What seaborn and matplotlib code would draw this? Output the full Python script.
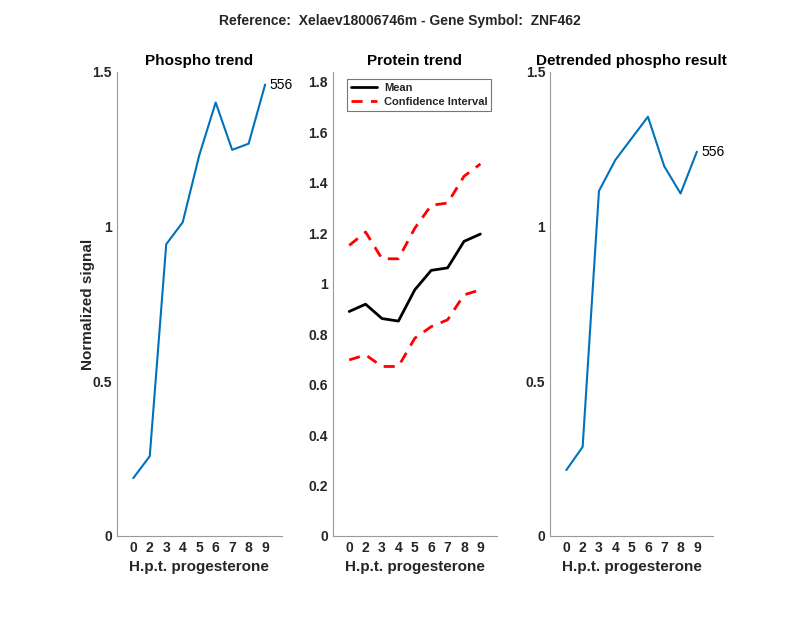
import numpy as np
import pandas as pd
import matplotlib
matplotlib.use("Agg")
import matplotlib.pyplot as plt
import seaborn as sns

# time points (h.p.t. progesterone); plotted at even positions 1..9
time_labels = ["0", "2", "3", "4", "5", "6", "7", "8", "9"]

phospho = [0.187, 0.258, 0.943, 1.014, 1.230, 1.401, 1.248, 1.268, 1.459]
protein_mean = [0.890, 0.919, 0.862, 0.852, 0.976, 1.053, 1.063, 1.168, 1.197]
protein_upper = [1.152, 1.205, 1.099, 1.099, 1.220, 1.311, 1.320, 1.426, 1.475]
protein_lower = [0.698, 0.718, 0.672, 0.672, 0.784, 0.830, 0.857, 0.956, 0.976]
detrended = [0.213, 0.288, 1.115, 1.215, 1.285, 1.355, 1.195, 1.107, 1.242]

protein_ticks = [0, 0.2, 0.4, 0.6, 0.8, 1, 1.2, 1.4, 1.6, 1.8]
protein_tick_labels = ["0", "0.2", "0.4", "0.6", "0.8", "1", "1.2", "1.4", "1.6", "1.8"]

peptide_label = "556"

sns.set_style("white")
plt.rcParams["font.family"] = ["Liberation Sans", "DejaVu Sans"]

blue = "#0072bd"
axis_col = "#9a9a9a"
text_col = "#262626"

pos = np.arange(1, len(time_labels) + 1)
df = pd.DataFrame({
    "pos": pos,
    "phospho": phospho,
    "mean": protein_mean,
    "upper": protein_upper,
    "lower": protein_lower,
    "detrended": detrended,
})

fig = plt.figure(figsize=(8, 6.18), dpi=100)
ax1 = fig.add_axes([0.146, 0.1327, 0.206, 0.751])
ax2 = fig.add_axes([0.416, 0.1327, 0.205, 0.751])
ax3 = fig.add_axes([0.6875, 0.1327, 0.204, 0.751])


def style_axis(ax, title, ylim, yticks, yticklabels):
    ax.set_xlim(0, 10)
    ax.set_ylim(*ylim)
    ax.set_xticks(pos)
    ax.set_xticklabels(time_labels)
    ax.set_yticks(yticks)
    ax.set_yticklabels(yticklabels)
    ax.set_title(title, fontsize=11, fontweight="bold", color="black", pad=5)
    ax.set_xlabel("H.p.t. progesterone", fontsize=11, fontweight="bold",
                  color=text_col, labelpad=4)
    ax.set_ylabel("")
    for s in ["top", "right"]:
        ax.spines[s].set_visible(False)
    for s in ["left", "bottom"]:
        ax.spines[s].set_color(axis_col)
        ax.spines[s].set_linewidth(0.8)
    ax.tick_params(direction="in", length=4, width=0.8, color=axis_col,
                   labelcolor=text_col, labelsize=10)
    for lab in ax.get_xticklabels() + ax.get_yticklabels():
        lab.set_fontweight("bold")


# phospho trend
sns.lineplot(data=df, x="pos", y="phospho", ax=ax1, color=blue, linewidth=1.5)
ax1.text(df["pos"].iloc[-1] + 0.25, df["phospho"].iloc[-1], peptide_label,
         fontsize=10, va="center", color="black")
style_axis(ax1, "Phospho trend", (0, 1.5), [0, 0.5, 1, 1.5], ["0", "0.5", "1", "1.5"])
ax1.set_ylabel("Normalized signal", fontsize=11, fontweight="bold",
               color=text_col, labelpad=-1.5)

# protein trend
sns.lineplot(data=df, x="pos", y="mean", ax=ax2, color="black", linewidth=2,
             label="Mean")
sns.lineplot(data=df, x="pos", y="upper", ax=ax2, color="red", linewidth=2,
             linestyle=(0, (4, 3)), label="Confidence Interval")
sns.lineplot(data=df, x="pos", y="lower", ax=ax2, color="red", linewidth=2,
             linestyle=(0, (4, 3)))
style_axis(ax2, "Protein trend", (0, 1.84), protein_ticks, protein_tick_labels)
leg = ax2.legend(loc="upper left", bbox_to_anchor=(0.085, 0.985), frameon=True,
                 fancybox=False, borderaxespad=0,
                 prop={"weight": "bold", "size": 8},
                 handlelength=2.4, borderpad=0.35, labelspacing=0.35,
                 handletextpad=0.6)
leg.get_frame().set_edgecolor("#555555")
leg.get_frame().set_linewidth(0.8)

# detrended phospho
sns.lineplot(data=df, x="pos", y="detrended", ax=ax3, color=blue, linewidth=1.5)
ax3.text(df["pos"].iloc[-1] + 0.25, df["detrended"].iloc[-1], peptide_label,
         fontsize=10, va="center", color="black")
style_axis(ax3, "Detrended phospho result", (0, 1.5), [0, 0.5, 1, 1.5],
           ["0", "0.5", "1", "1.5"])

fig.suptitle("Reference:  Xelaev18006746m - Gene Symbol:  ZNF462",
             fontsize=10, fontweight="bold", y=0.978)

fig.savefig("out.png", dpi=100)
